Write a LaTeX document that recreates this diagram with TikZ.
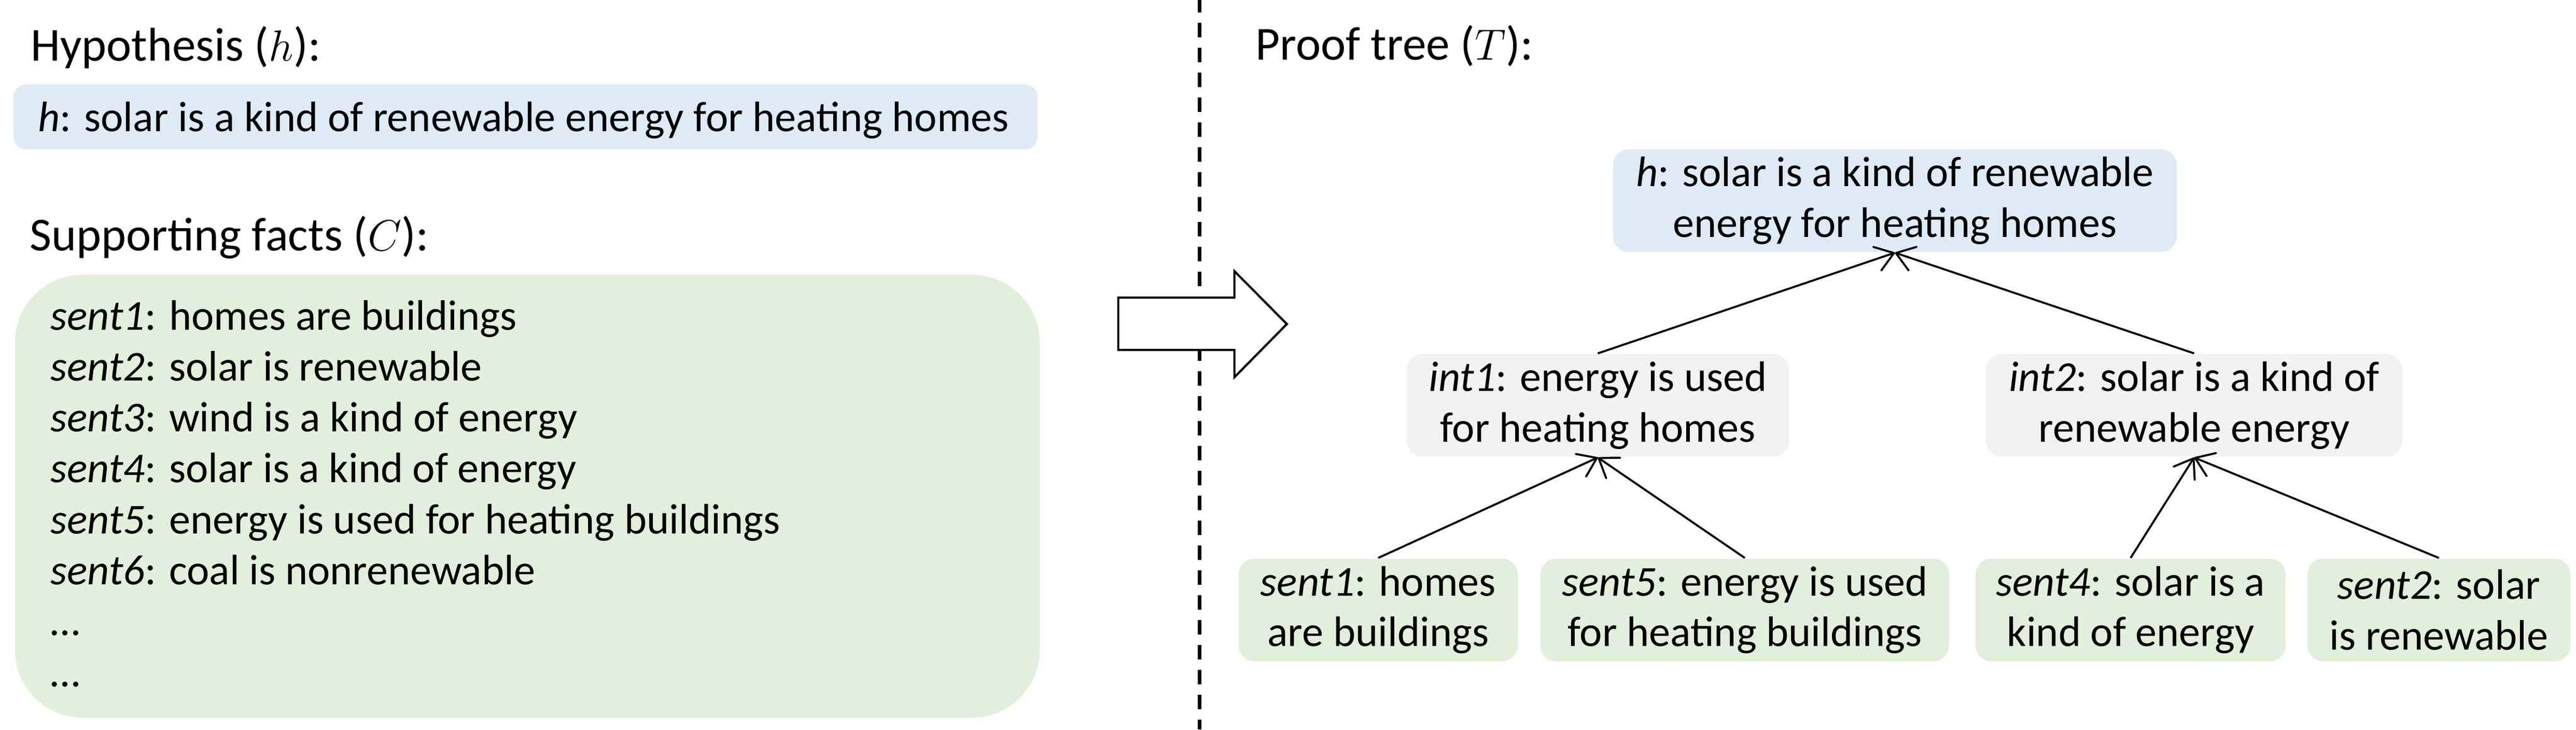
\documentclass[tikz,border=0pt]{standalone}
\usepackage{fontspec}
\setmainfont{Carlito}
\usetikzlibrary{positioning, arrows.meta}
\definecolor{hypblue}{RGB}{222,234,246}
\definecolor{factgreen}{RGB}{226,239,218}
\definecolor{intgrey}{RGB}{242,242,242}

\begin{document}
\begin{tikzpicture}[>={Straight Barb[length=0.17cm,width=0.24cm,round]},
		title/.style={anchor=base west, inner sep=0pt, font=\fontsize{13}{16}\selectfont},
		fact/.style={anchor=base west, inner sep=0pt, font=\fontsize{11.7}{13.9}\selectfont},
		treebox/.style={align=center, rounded corners=0.15cm, inner sep=0pt, minimum height=0.99cm, font=\fontsize{11.7}{13.9}\selectfont},
		hypbox/.style={treebox, fill=hypblue},
		intbox/.style={treebox, fill=intgrey},
		sentbox/.style={treebox, fill=factgreen},
		proof/.style={->, line width=0.55pt},
	]
			\useasboundingbox (0, 0) rectangle (24.84, -7.035);
			% left half: hypothesis and supporting facts
			\node[title] (hyp-title) at (0.29, -0.585) {Hypothesis ($h$):};
			\node[fill=hypblue, rounded corners=0.12cm, minimum width=9.875cm, minimum height=0.625cm, inner sep=0pt] at (5.0675, -1.1275) (hyp-box) {};
			\node[fact] (hyp-text) at (0.36, -1.265) {\textit{h}: solar is a kind of renewable energy for heating homes};
			\node[title] (facts-title) at (0.28, -2.415) {Supporting facts ($C$):};
			\node[fill=factgreen, rounded corners=0.65cm, minimum width=9.88cm, minimum height=4.27cm, inner sep=0pt] at (5.085, -4.785) (facts-box) {};
			\foreach \lbl/\txt [count=\i] in {sent1/homes are buildings, sent2/solar is renewable, sent3/wind is a kind of energy, sent4/solar is a kind of energy, sent5/energy is used for heating buildings, sent6/coal is nonrenewable}
				\node[fact] (fact-\i) at (0.48, {-3.18-0.4915*(\i-1)}) {\textit{\lbl}: \txt};
			\node[fact] (fact-dots-1) at (0.48, -6.129) {…};
			\node[fact] (fact-dots-2) at (0.48, -6.6205) {…};
			% separator and block arrow
			\draw[line width=1pt, dash pattern=on 0.14cm off 0.1cm, dash phase=0.02cm] (11.565, 0) -- (11.565, -7.035);
			\draw[line width=0.6pt, fill=white] (10.783, -2.87) -- (11.903, -2.87) -- (11.903, -2.615) -- (12.409, -3.125) -- (11.903, -3.638) -- (11.903, -3.375) -- (10.783, -3.375) -- cycle;
			% right half: proof tree
			\node[title] (tree-title) at (12.1, -0.575) {Proof tree ($T$):};
			\node[hypbox, minimum width=5.435cm] at (18.2725, -1.935) (h) {\textit{h}: solar is a kind of renewable\\energy for heating homes};
			\node[intbox, minimum width=3.685cm] at (15.4075, -3.91) (int-1) {\textit{int1}: energy is used\\for heating homes};
			\node[intbox, minimum width=4.015cm] at (21.1575, -3.91) (int-2) {\textit{int2}: solar is a kind of\\renewable energy};
			\node[sentbox, minimum width=2.69cm] at (13.29, -5.8825) (sent-1) {\textit{sent1}: homes\\are buildings};
			\node[sentbox, minimum width=3.94cm] at (16.825, -5.8825) (sent-5) {\textit{sent5}: energy is used\\for heating buildings};
			\node[sentbox, minimum width=2.99cm] at (20.545, -5.8825) (sent-4) {\textit{sent4}: solar is a\\kind of energy};
			\node[sentbox, minimum width=2.535cm] at (23.5175, -5.8825) (sent-2) {\textit{sent2}: solar\\is renewable};
			\draw[proof] (int-1.north) -- (h.south);
			\draw[proof] (int-2.north) -- (h.south);
			\draw[proof] (sent-1.north) -- (int-1.south);
			\draw[proof] (sent-5.north) -- (int-1.south);
			\draw[proof] (sent-4.north) -- (int-2.south);
			\draw[proof] (sent-2.north) -- (int-2.south);
		\end{tikzpicture}
\end{document}
